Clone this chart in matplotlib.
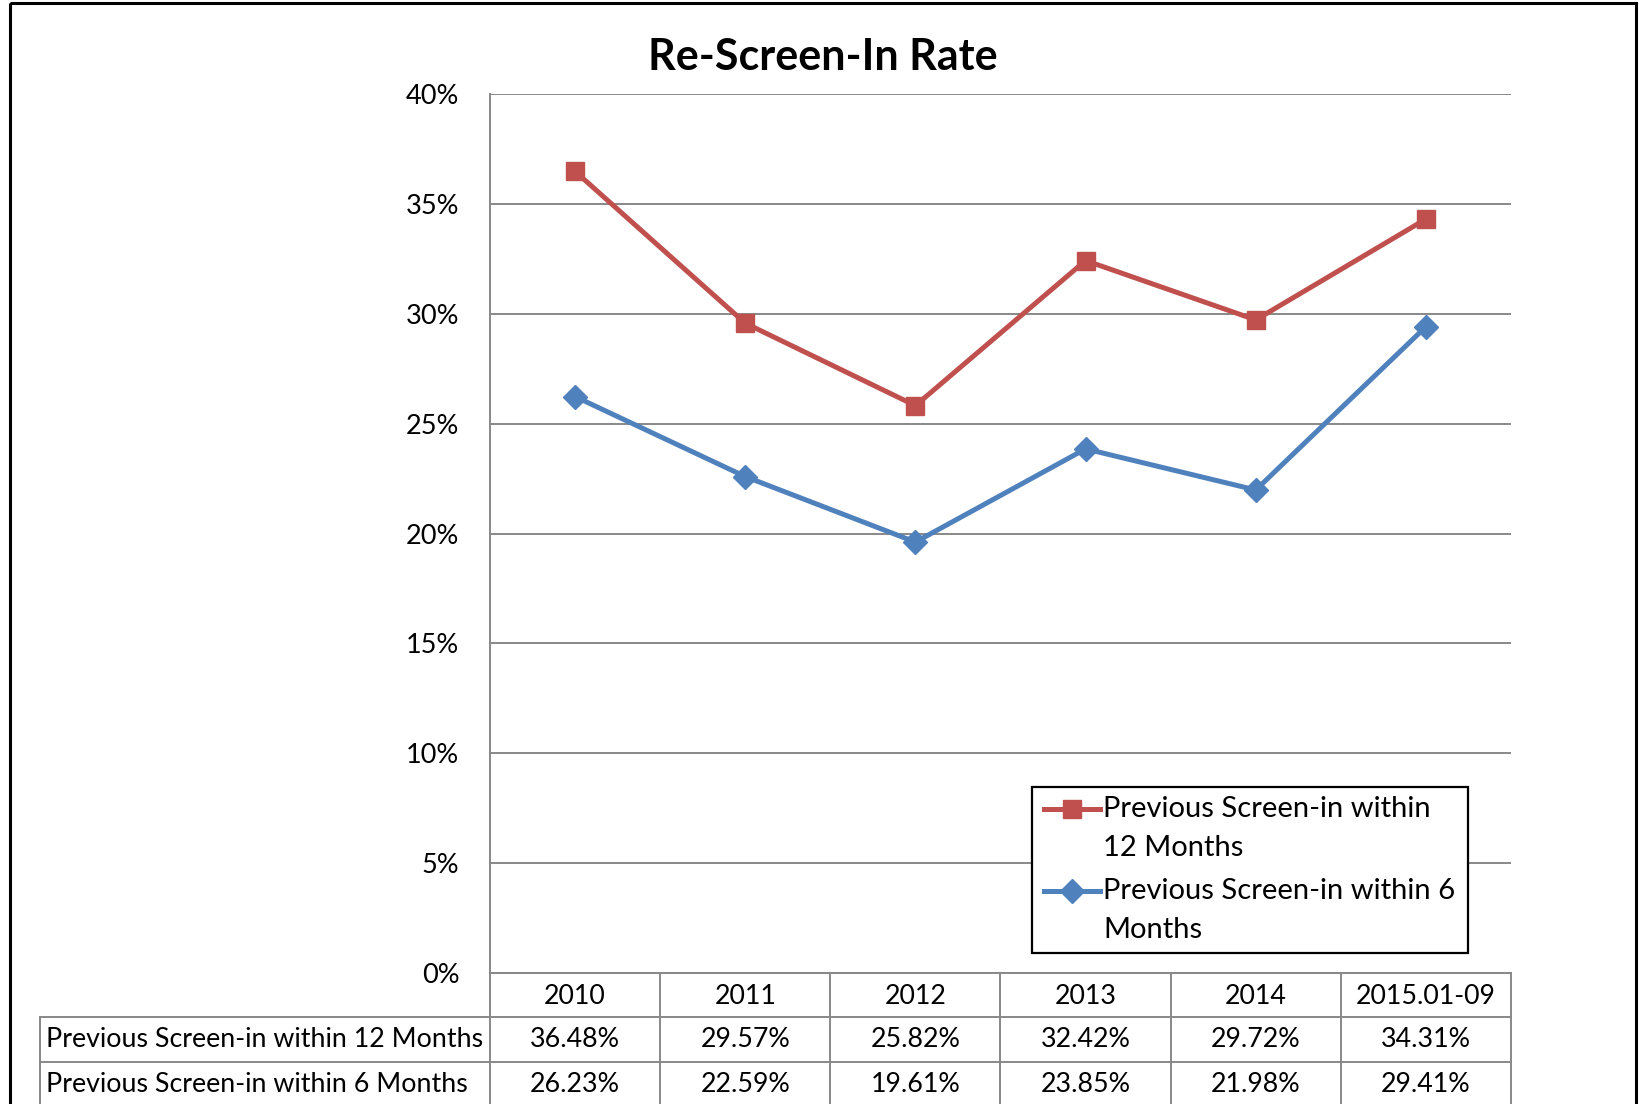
import matplotlib.pyplot as plt
from matplotlib.patches import Rectangle
from matplotlib.lines import Line2D

years = ["2010", "2011", "2012", "2013", "2014", "2015.01-09"]
rate_12m = [36.48, 29.57, 25.82, 32.42, 29.72, 34.31]
rate_6m = [26.23, 22.59, 19.61, 23.85, 21.98, 29.41]
label_12m = "Previous Screen-in within 12 Months"
label_6m = "Previous Screen-in within 6 Months"
yticks = [0, 5, 10, 15, 20, 25, 30, 35, 40]

RED = "#C0504D"
BLUE = "#4F81BD"
GRID = "#888888"
FONT = "Lato"

W, H = 1640, 1104
fig = plt.figure(figsize=(W / 100, H / 100), dpi=100)
plt.rcParams['font.family'] = [FONT, 'DejaVu Sans']

def fx(px):
    return px / W

def fy(py):
    return 1 - py / H

# plot area in pixels
L, R, T, B = 490, 1511, 94, 973
ax = fig.add_axes([fx(L), fy(B), fx(R) - fx(L), fy(T) - fy(B)])

x = list(range(len(years)))
ax.plot(x, rate_12m, color=RED, lw=3.6, marker='s', ms=13.5, zorder=3)
ax.plot(x, rate_6m, color=BLUE, lw=3.6, marker='D', ms=12, zorder=3)

ax.set_xlim(-0.5, len(years) - 0.5)
ax.set_ylim(0, 40)
ax.set_yticks(yticks)
ax.set_yticklabels([f"{v}%" for v in yticks], fontsize=19.5)
ax.set_xticks([])
ax.tick_params(axis='y', length=0, pad=22)
ax.grid(axis='y', color=GRID, lw=1.4)
ax.set_axisbelow(True)
for s in ['top', 'right', 'bottom']:
    ax.spines[s].set_visible(False)
ax.spines['left'].set_color(GRID)
ax.spines['left'].set_linewidth(1.4)

# overlay for title, table and legend (pixel coordinates)
ov = fig.add_axes([0, 0, 1, 1], facecolor='none')
ov.set_xlim(0, W)
ov.set_ylim(H, 0)
ov.axis('off')

ov.text(823, 57, "Re-Screen-In Rate", fontsize=31, fontweight='bold',
        ha='center', va='center')

# outer frame
ov.add_patch(Rectangle((10, 3), 1626, 1200, fill=False, ec='black', lw=2.2,
                       clip_on=False))

# data table
col_w = (R - L) / len(years)
rows_y = [973, 1017, 1062, 1106]
lab_left = 40
tk = dict(color=GRID, lw=1.4, clip_on=False)
ov.plot([L, R], [rows_y[0], rows_y[0]], **tk)
for yy in rows_y[1:]:
    ov.plot([lab_left, R], [yy, yy], **tk)
for i in range(len(years) + 1):
    ov.plot([L + i * col_w] * 2, [rows_y[0], rows_y[-1]], **tk)
ov.plot([lab_left, lab_left], [rows_y[1], rows_y[-1]], **tk)

fs_tab = 19.3
for i, yr in enumerate(years):
    cx = L + (i + 0.5) * col_w
    ov.text(cx, (rows_y[0] + rows_y[1]) / 2 + 2, yr, fontsize=fs_tab,
            ha='center', va='center')
    ov.text(cx, (rows_y[1] + rows_y[2]) / 2, f"{rate_12m[i]:.2f}%",
            fontsize=fs_tab, ha='center', va='center')
    ov.text(cx, (rows_y[2] + rows_y[3]) / 2, f"{rate_6m[i]:.2f}%",
            fontsize=fs_tab, ha='center', va='center')
ov.text(lab_left + 6, (rows_y[1] + rows_y[2]) / 2, label_12m,
        fontsize=fs_tab, ha='left', va='center')
ov.text(lab_left + 6, (rows_y[2] + rows_y[3]) / 2, label_6m,
        fontsize=fs_tab, ha='left', va='center')

# legend
ov.add_patch(Rectangle((1032, 787), 436, 166, fill=True, fc='white',
                       ec='black', lw=1.6, zorder=4))
leg_lines = [(809, RED, 's', 13.5, "Previous Screen-in within", "12 Months"),
             (891, BLUE, 'D', 12, "Previous Screen-in within 6", "Months")]
for yy, c, m, ms, t1, t2 in leg_lines:
    ov.add_line(Line2D([1044, 1100], [yy, yy], color=c, lw=3.6, zorder=5))
    ov.add_line(Line2D([1072], [yy], color=c, marker=m, ms=ms, zorder=5))
    ov.text(1103, yy, t1, fontsize=21, ha='left', va='center', zorder=5)
    ov.text(1103, yy + 39, t2, fontsize=21, ha='left', va='center', zorder=5)

fig.savefig("out.png", dpi=100)
